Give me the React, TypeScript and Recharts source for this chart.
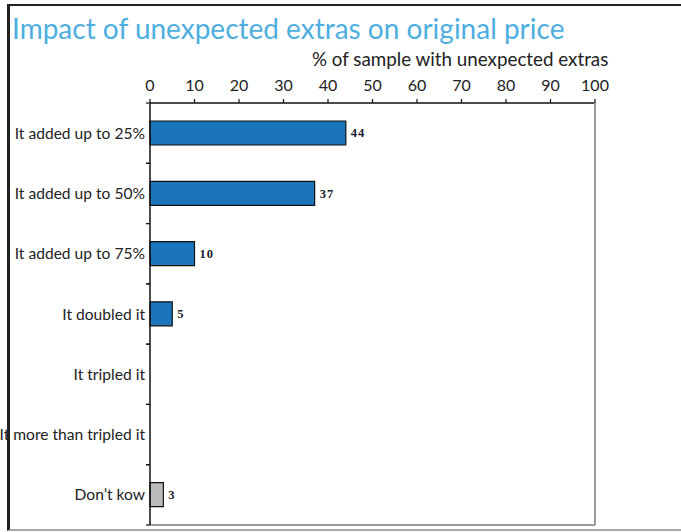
import { BarChart, Bar, Cell, XAxis, YAxis, LabelList } from 'recharts'

const categories = [
  'It added up to 25%',
  'It added up to 50%',
  'It added up to 75%',
  'It doubled it',
  'It tripled it',
  'It more than tripled it',
  'Don’t kow',
]

const shares = [44, 37, 10, 5, null, null, 3]

const xTicks = [0, 10, 20, 30, 40, 50, 60, 70, 80, 90, 100]

const data = categories.map((category, i) => ({ category, value: shares[i] }))

const BLUE = '#1b75bb'
const GREY = '#bcbcbe'
const SANS = 'Lato, "Open Sans", sans-serif'
const CAT_GAP = 5

// category label plus the small marks on the band edges
const CategoryTick = (props: any) => {
  const { x, y, payload } = props
  const half = payload.offset || 0
  const axisX = x + CAT_GAP
  return (
    <g>
      <text x={x} y={y} dy="0.36em" textAnchor="end" fill="#222" fontSize={15.6} fontFamily={SANS}>
        {payload.value}
      </text>
      <line x1={axisX - 4} x2={axisX} y1={y - half} y2={y - half} stroke="#111" strokeWidth={1.2} />
      <line x1={axisX - 4} x2={axisX} y1={y + half} y2={y + half} stroke="#111" strokeWidth={1.2} />
    </g>
  )
}

export default function App() {
  return (
    <div style={{ position: 'absolute', left: 0, top: 0, width: 681, height: 532, background: '#fff', overflow: 'hidden' }}>
      <BarChart
        layout="vertical"
        width={681}
        height={532}
        data={data}
        margin={{ top: 63, right: 85, bottom: 6, left: 8 }}
        barSize={24}
      >
        <XAxis
          xAxisId="top"
          type="number"
          orientation="top"
          domain={[0, 100]}
          ticks={xTicks}
          interval={0}
          height={40}
          tickSize={4}
          tickMargin={8}
          axisLine={{ stroke: '#111', strokeWidth: 1.5 }}
          tickLine={{ stroke: '#111', strokeWidth: 1.2 }}
          tick={{ fill: '#222', fontSize: 16, fontFamily: SANS }}
        />
        <XAxis
          xAxisId="bottom"
          type="number"
          orientation="bottom"
          domain={[0, 100]}
          height={1}
          tick={false}
          tickLine={false}
          axisLine={{ stroke: '#9a9a9a', strokeWidth: 2 }}
        />
        <YAxis
          yAxisId="cat"
          type="category"
          dataKey="category"
          width={142}
          interval={0}
          tickLine={false}
          tickSize={0}
          tickMargin={CAT_GAP}
          axisLine={{ stroke: '#111', strokeWidth: 1.5 }}
          tick={<CategoryTick />}
        />
        <YAxis
          yAxisId="right"
          orientation="right"
          type="number"
          domain={[0, 7]}
          allowDataOverflow
          width={1}
          tick={false}
          tickLine={false}
          axisLine={{ stroke: '#9a9a9a', strokeWidth: 2 }}
        />
        <Bar xAxisId="top" yAxisId="cat" dataKey="value" stroke="#111" strokeWidth={1.2} isAnimationActive={false}>
          {data.map((d, i) => (
            <Cell key={`cell-${i}`} fill={d.category === 'Don’t kow' ? GREY : BLUE} />
          ))}
          <LabelList
            dataKey="value"
            position="right"
            offset={5}
            style={{ fill: '#1a1a2a', fontSize: 12.5, fontWeight: 700, fontFamily: '"Liberation Serif", serif', letterSpacing: 1 }}
          />
        </Bar>
      </BarChart>

      <svg width={681} height={100} style={{ position: 'absolute', left: 0, top: 0 }}>
        <text x={12} y={39} fill="#4eaee0" fontSize={28} fontFamily={SANS}>
          Impact of unexpected extras on original price
        </text>
        <text x={312} y={66} fill="#222" fontSize={18.8} fontFamily={SANS}>
          % of sample with unexpected extras
        </text>
      </svg>

      <div
        style={{
          position: 'absolute',
          left: 7,
          top: 4,
          width: 674,
          height: 527,
          boxSizing: 'border-box',
          borderTop: '2px solid #222',
          borderLeft: '3px solid #222',
          borderBottom: '2px solid #a8a8a8',
          pointerEvents: 'none',
        }}
      />
    </div>
  )
}
